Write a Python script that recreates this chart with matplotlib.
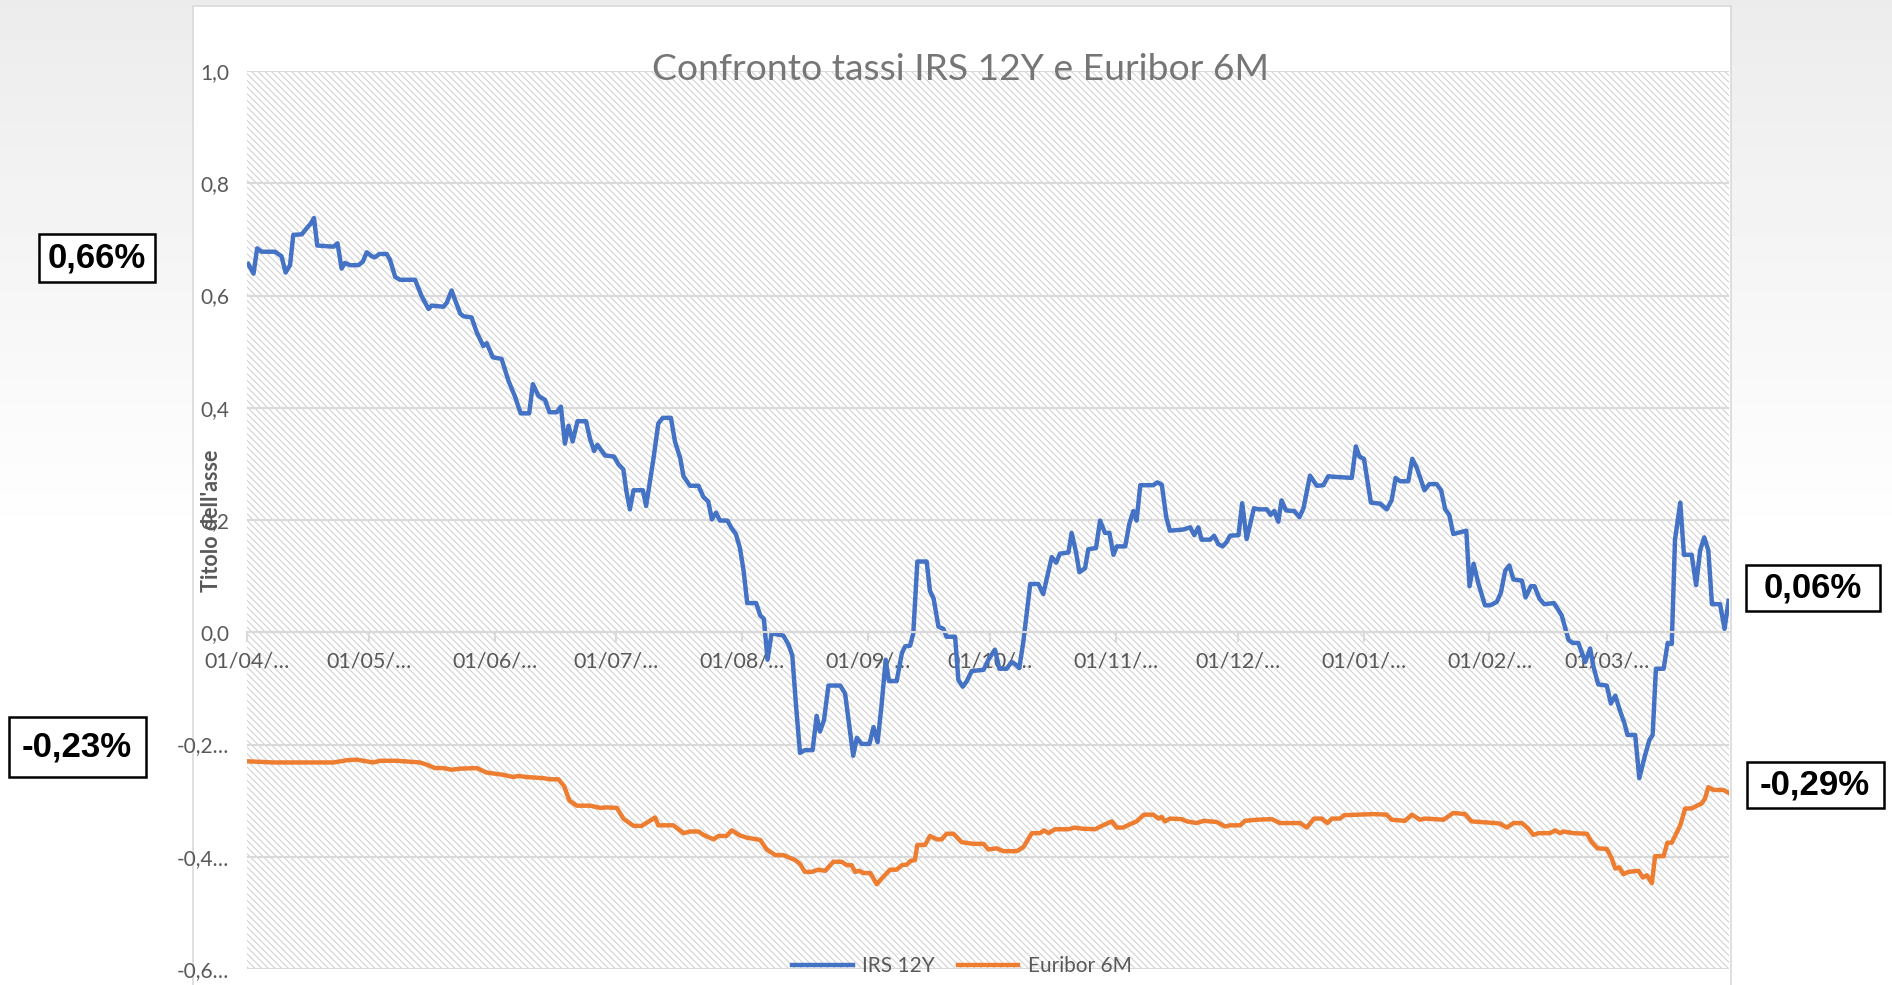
import numpy as np
import pandas as pd
import matplotlib
matplotlib.use("Agg")
import matplotlib.pyplot as plt
from matplotlib.patches import Rectangle

plt.rcParams["font.family"] = ["Lato", "DejaVu Sans"]
plt.rcParams["hatch.linewidth"] = 0.8

# ---- data (days counted from 01/04/2019, values in %) ----
start = pd.Timestamp("2019-04-01")
end = pd.Timestamp("2020-03-31")

irs_day = [
    0.3, 1.6, 2.5, 3.6, 6.9, 8.5, 9.5, 10.6, 11.4, 13.5,
    14.7, 15.7, 16.5, 17.3, 21.3, 22.3, 23.3, 24.1, 25.4, 27.4,
    28.5, 29.5, 30.7, 31.5, 32.6, 34.4, 35.2, 36.5, 37.7, 41.4,
    43.0, 44.7, 45.5, 48.4, 49.2, 50.4, 51.2, 52.5, 53.3, 55.3,
    56.6, 58.2, 59.0, 59.9, 60.5, 62.7, 64.4, 66.0, 67.4, 69.5,
    70.4, 71.8, 73.4, 74.5, 76.3, 77.3, 78.3, 79.2, 80.2, 81.4,
    83.5, 84.5, 85.5, 86.3, 88.2, 90.4, 91.5, 92.7, 93.4, 94.3,
    95.2, 97.5, 98.3, 100.1, 101.3, 102.4, 104.4, 105.4, 106.7, 107.5,
    109.1, 111.2, 112.4, 113.6, 114.5, 115.5, 116.5, 118.3, 119.4, 120.4,
    121.4, 122.3, 123.2, 125.4, 126.4, 127.3, 128.2, 129.2, 132.1, 133.3,
    134.3, 135.2, 136.2, 137.4, 139.3, 140.3, 141.1, 142.1, 143.2, 146.1,
    147.3, 148.1, 149.3, 150.2, 151.4, 153.3, 154.3, 155.3, 156.3, 157.3,
    158.1, 160.0, 161.3, 162.1, 163.3, 164.1, 165.1, 167.4, 168.2, 169.1,
    170.3, 171.5, 172.3, 174.4, 175.2, 176.3, 177.3, 178.5, 181.4, 182.6,
    184.2, 185.3, 187.1, 188.3, 189.2, 190.2, 191.2, 192.9, 194.9, 196.1,
    198.2, 199.3, 200.2, 202.3, 203.1, 204.2, 205.0, 206.4, 207.2, 209.1,
    210.1, 211.3, 212.4, 213.4, 214.2, 216.3, 217.3, 218.3, 219.1, 220.0,
    223.2, 224.2, 225.3, 226.4, 227.3, 230.6, 232.3, 233.3, 234.3, 235.1,
    237.2, 238.2, 239.2, 240.3, 241.3, 242.1, 244.2, 245.1, 246.2, 248.0,
    249.1, 251.2, 252.1, 253.0, 254.0, 254.8, 255.9, 257.9, 259.2, 260.2,
    261.8, 263.5, 265.1, 266.3, 267.6, 272.1, 273.1, 274.0, 275.1, 276.8,
    279.1, 280.7, 281.9, 282.9, 284.0, 286.0, 287.0, 288.1, 290.0, 291.2,
    293.0, 294.1, 295.1, 296.1, 297.1, 300.3, 301.1, 302.1, 303.3, 304.9,
    306.2, 307.8, 308.8, 309.9, 310.9, 311.9, 314.0, 314.9, 316.2, 317.1,
    318.3, 319.5, 321.9, 323.8, 325.5, 326.5, 327.9, 329.6, 330.8, 331.6,
    332.8, 334.9, 335.9, 337.0, 338.2, 339.2, 340.0, 341.9, 342.9, 344.3,
    345.4, 346.2, 347.0, 348.9, 349.9, 350.9, 351.7, 353.0, 353.9, 355.8,
    356.9, 357.9, 358.9, 359.9, 360.8, 362.8, 363.9, 364.9,
]
irs_val = [
    0.656, 0.639, 0.684, 0.678, 0.678, 0.670, 0.641, 0.654, 0.708, 0.709,
    0.720, 0.728, 0.738, 0.689, 0.687, 0.693, 0.648, 0.658, 0.654, 0.654,
    0.660, 0.677, 0.670, 0.668, 0.674, 0.674, 0.664, 0.633, 0.628, 0.628,
    0.599, 0.576, 0.582, 0.580, 0.587, 0.609, 0.593, 0.568, 0.563, 0.561,
    0.534, 0.510, 0.515, 0.501, 0.490, 0.487, 0.448, 0.420, 0.390, 0.390,
    0.442, 0.421, 0.414, 0.392, 0.392, 0.402, 0.336, 0.368, 0.340, 0.376,
    0.376, 0.344, 0.323, 0.334, 0.315, 0.313, 0.299, 0.290, 0.253, 0.219,
    0.253, 0.253, 0.225, 0.309, 0.372, 0.382, 0.382, 0.340, 0.310, 0.278,
    0.261, 0.261, 0.241, 0.233, 0.201, 0.213, 0.199, 0.199, 0.185, 0.175,
    0.150, 0.110, 0.052, 0.052, 0.030, 0.024, -0.049, -0.002, -0.006, -0.021,
    -0.041, -0.129, -0.215, -0.210, -0.210, -0.149, -0.177, -0.157, -0.095, -0.095,
    -0.109, -0.153, -0.220, -0.188, -0.199, -0.199, -0.169, -0.196, -0.129, -0.049,
    -0.087, -0.087, -0.037, -0.025, -0.024, -0.002, 0.126, 0.126, 0.074, 0.060,
    0.010, 0.006, -0.008, -0.008, -0.085, -0.097, -0.087, -0.069, -0.067, -0.049,
    -0.031, -0.065, -0.065, -0.053, -0.057, -0.064, -0.017, 0.086, 0.086, 0.068,
    0.134, 0.124, 0.140, 0.142, 0.177, 0.142, 0.107, 0.114, 0.148, 0.150,
    0.199, 0.177, 0.177, 0.138, 0.153, 0.153, 0.193, 0.216, 0.199, 0.262,
    0.262, 0.267, 0.263, 0.205, 0.181, 0.183, 0.187, 0.173, 0.187, 0.165,
    0.165, 0.172, 0.157, 0.153, 0.161, 0.172, 0.173, 0.230, 0.166, 0.221,
    0.219, 0.219, 0.209, 0.216, 0.197, 0.235, 0.217, 0.216, 0.205, 0.221,
    0.279, 0.261, 0.262, 0.278, 0.277, 0.275, 0.331, 0.313, 0.309, 0.231,
    0.229, 0.219, 0.235, 0.275, 0.269, 0.269, 0.309, 0.293, 0.253, 0.264,
    0.264, 0.253, 0.219, 0.209, 0.175, 0.181, 0.082, 0.122, 0.086, 0.048,
    0.048, 0.054, 0.070, 0.110, 0.119, 0.094, 0.092, 0.062, 0.082, 0.082,
    0.060, 0.050, 0.052, 0.030, -0.014, -0.019, -0.019, -0.053, -0.029, -0.061,
    -0.093, -0.095, -0.127, -0.113, -0.141, -0.161, -0.183, -0.183, -0.260, -0.220,
    -0.192, -0.183, -0.065, -0.065, -0.019, -0.021, 0.165, 0.231, 0.138, 0.138,
    0.084, 0.146, 0.169, 0.146, 0.050, 0.050, 0.006, 0.056,
]

eur_day = [
    0.3, 6.5, 14.7, 21.3, 24.6, 27.0, 31.1, 32.8, 36.9, 42.6,
    44.3, 46.3, 48.4, 50.4, 52.5, 56.6, 59.0, 63.1, 65.6, 66.8,
    68.9, 73.0, 74.6, 76.7, 78.1, 79.4, 81.2, 84.5, 87.0, 88.6,
    91.1, 92.7, 95.2, 97.2, 98.3, 99.9, 100.5, 101.3, 105.0, 107.5,
    109.1, 111.2, 112.4, 114.9, 116.1, 118.1, 119.4, 121.4, 123.1, 126.4,
    128.0, 130.1, 132.1, 135.0, 136.2, 137.4, 139.1, 140.7, 142.4, 144.4,
    146.5, 147.7, 148.9, 149.8, 150.8, 151.8, 153.5, 155.1, 156.3, 158.4,
    160.0, 161.3, 162.5, 163.5, 164.5, 165.1, 167.0, 168.2, 169.9, 171.1,
    172.3, 174.0, 176.0, 178.9, 181.4, 182.6, 184.6, 186.3, 189.6, 191.2,
    192.2, 193.3, 195.3, 196.3, 197.4, 199.0, 202.3, 203.9, 205.6, 208.9,
    210.5, 213.0, 214.2, 215.8, 217.5, 219.1, 220.9, 223.2, 224.5, 225.3,
    226.1, 227.3, 230.2, 231.5, 233.9, 235.6, 238.8, 240.9, 242.1, 244.6,
    245.8, 248.7, 252.4, 254.4, 259.4, 261.0, 262.8, 264.7, 266.1, 267.2,
    269.2, 270.2, 274.1, 277.4, 280.7, 281.9, 285.2, 286.9, 288.9, 290.2,
    294.7, 297.1, 300.0, 301.6, 307.4, 308.6, 310.3, 311.9, 314.0, 315.6,
    316.8, 318.1, 320.9, 322.2, 323.4, 324.2, 326.7, 330.0, 331.2, 332.6,
    334.9, 336.1, 337.0, 338.0, 339.0, 340.2, 342.7, 343.8, 344.8, 346.0,
    346.8, 348.9, 349.8, 350.9, 353.0, 354.2, 355.8, 357.1, 358.3, 359.1,
    359.9, 361.2, 363.6, 364.9,
]
eur_val = [
    -0.230, -0.232, -0.232, -0.232, -0.228, -0.227, -0.232, -0.229, -0.229, -0.232,
    -0.236, -0.242, -0.242, -0.245, -0.243, -0.242, -0.250, -0.254, -0.258, -0.256,
    -0.258, -0.260, -0.262, -0.262, -0.274, -0.300, -0.309, -0.309, -0.313, -0.312,
    -0.313, -0.332, -0.345, -0.345, -0.340, -0.333, -0.330, -0.344, -0.344, -0.358,
    -0.355, -0.355, -0.361, -0.369, -0.363, -0.363, -0.353, -0.362, -0.366, -0.370,
    -0.387, -0.397, -0.397, -0.406, -0.413, -0.427, -0.427, -0.423, -0.425, -0.409,
    -0.409, -0.415, -0.415, -0.427, -0.425, -0.429, -0.429, -0.449, -0.439, -0.423,
    -0.423, -0.415, -0.414, -0.407, -0.406, -0.379, -0.379, -0.363, -0.369, -0.369,
    -0.359, -0.359, -0.374, -0.377, -0.377, -0.387, -0.385, -0.390, -0.390, -0.383,
    -0.371, -0.358, -0.358, -0.353, -0.358, -0.351, -0.351, -0.348, -0.350, -0.351,
    -0.345, -0.337, -0.348, -0.348, -0.342, -0.337, -0.325, -0.325, -0.332, -0.329,
    -0.337, -0.332, -0.333, -0.337, -0.340, -0.336, -0.338, -0.346, -0.344, -0.344,
    -0.336, -0.334, -0.333, -0.340, -0.340, -0.348, -0.332, -0.332, -0.340, -0.332,
    -0.332, -0.326, -0.325, -0.324, -0.325, -0.334, -0.336, -0.325, -0.334, -0.332,
    -0.334, -0.322, -0.324, -0.337, -0.340, -0.341, -0.348, -0.340, -0.340, -0.350,
    -0.361, -0.358, -0.358, -0.353, -0.358, -0.355, -0.358, -0.359, -0.374, -0.385,
    -0.386, -0.403, -0.421, -0.419, -0.431, -0.427, -0.425, -0.437, -0.433, -0.447,
    -0.399, -0.399, -0.375, -0.375, -0.344, -0.314, -0.314, -0.309, -0.305, -0.296,
    -0.276, -0.281, -0.281, -0.286,
]

series_names = ["IRS 12Y", "Euribor 6M"]
title = "Confronto tassi IRS 12Y e Euribor 6M"
y_ticks = [-0.6, -0.4, -0.2, 0.0, 0.2, 0.4, 0.6, 0.8, 1.0]
y_labels = ["-0,6…", "-0,4…", "-0,2…", "0,0", "0,2", "0,4", "0,6", "0,8", "1,0"]
callouts = ["0,66%", "-0,23%", "0,06%", "-0,29%"]

assert len(irs_day) == len(irs_val) and len(eur_day) == len(eur_val)

irs_x = start + pd.to_timedelta(irs_day, unit="D")
eur_x = start + pd.to_timedelta(eur_day, unit="D")
months = pd.date_range(start, "2020-03-01", freq="MS")
month_labels = [m.strftime("%d/%m/") + "…" for m in months]

# ---- figure ----
W, H = 1892, 985
fig = plt.figure(figsize=(W / 100, H / 100), dpi=100)


def fx(px):
    return px / W


def fy(py):
    return 1 - py / H


# soft grey backdrop behind the chart object
bg = fig.add_axes([0, 0, 1, 1], zorder=-10)
shade = np.clip(0.925 + 0.075 * np.linspace(0, 1.8, 200), 0, 1)[:, None]
bg.imshow(shade, cmap="gray", vmin=0, vmax=1, aspect="auto", extent=[0, 1, 0, 1])
bg.axis("off")

fig.add_artist(Rectangle((fx(193), fy(995)), (1731 - 193) / W, (995 - 6) / H,
                         transform=fig.transFigure, facecolor="white",
                         edgecolor="#d9d9d9", lw=1.2, zorder=-5))

ax = fig.add_axes([fx(247), fy(969), (1729 - 247) / W, (969 - 71) / H])
ax.patch.set_facecolor("white")
ax.patch.set_edgecolor("#d2d2d2")
ax.patch.set_hatch("\\\\\\\\\\")
ax.patch.set_linewidth(0)

ax.plot(irs_x, irs_val, color="#4472C4", lw=3.2, solid_joinstyle="round", label=series_names[0])
ax.plot(eur_x, eur_val, color="#ED7D31", lw=3.2, solid_joinstyle="round", label=series_names[1])

ax.set_xlim(start, end)
ax.set_ylim(-0.6, 1.0)
ax.set_yticks(y_ticks)
ax.set_yticklabels(y_labels)
ax.set_xticks(months)
ax.set_xticklabels(month_labels)
ax.grid(axis="y", color="#d9d9d9", lw=1.5)

for s in ["left", "right", "top"]:
    ax.spines[s].set_visible(False)
ax.spines["bottom"].set_position(("data", 0))
ax.spines["bottom"].set_color("#d9d9d9")
ax.spines["bottom"].set_linewidth(1.5)

ax.tick_params(axis="y", length=0, pad=13, labelsize=15, labelcolor="#595959")
ax.tick_params(axis="x", length=7, width=1.5, color="#d9d9d9", pad=7,
               labelsize=15.5, labelcolor="#595959")

fig.text(fx(960), fy(69), title, ha="center", va="center", fontsize=26.8, color="#767676")
fig.text(fx(211), fy(521), "Titolo dell'asse", rotation=90, ha="center", va="center",
         fontsize=15.5, fontweight="bold", color="#595959")

handles, labels = ax.get_legend_handles_labels()
fig.legend(handles, labels, loc="center", bbox_to_anchor=(fx(962), fy(966)), ncol=2,
           frameon=False, fontsize=15, handlelength=2.9, handletextpad=0.45,
           columnspacing=1.1, labelcolor="#595959")

# value call-outs
box_pos = [(97, 258, 116, 48), (77, 747, 137, 60), (1813, 588, 134, 46), (1815, 785, 137, 46)]
for text, (cx, cy, w, h) in zip(callouts, box_pos):
    fig.add_artist(Rectangle((fx(cx - w / 2), fy(cy + h / 2)), w / W, h / H,
                             transform=fig.transFigure, facecolor="white",
                             edgecolor="black", lw=1.8, zorder=5))
    fig.text(fx(cx), fy(cy), text, ha="center", va="center", fontsize=25,
             fontweight="bold", family="Liberation Sans", zorder=6)

fig.savefig("out.png", dpi=100)
